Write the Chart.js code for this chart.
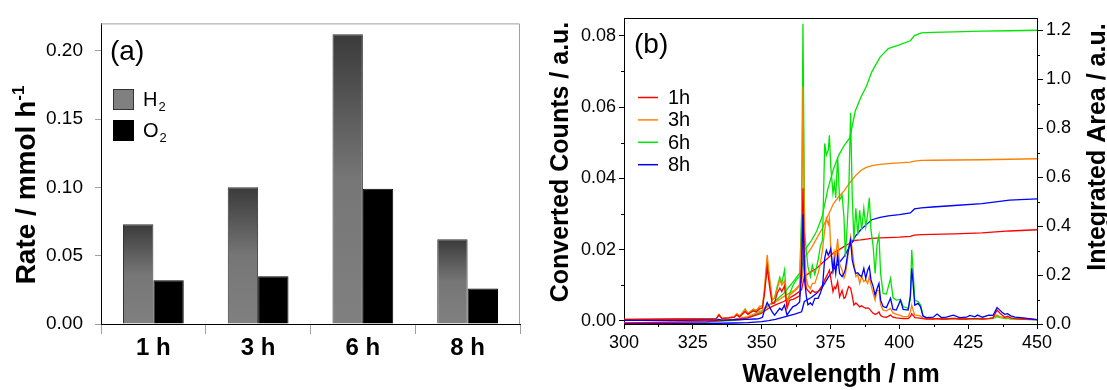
<!DOCTYPE html>
<html>
<head>
<meta charset="utf-8">
<script src="https://cdn.jsdelivr.net/npm/chart.js@4.4.1/dist/chart.umd.min.js"></script>
<style>
  html, body { margin: 0; padding: 0; background: #fff; }
  #wrap { position: relative; width: 1107px; height: 390px; }
  #boxA { position: absolute; left: 0; top: 0; }
  #boxB { position: absolute; left: 540px; top: 0; }
</style>
</head>
<body>
<div id="wrap">
  <div id="boxA"><canvas id="rateChart" width="540" height="390"></canvas></div>
  <div id="boxB"><canvas id="spectraChart" width="567" height="390"></canvas></div>
</div>
<script>
// panel (a): gas evolution rates
const hours = ['1 h', '3 h', '6 h', '8 h'];
const h2Rate = [0.073, 0.100, 0.212, 0.062];
const o2Rate = [0.032, 0.035, 0.099, 0.026];
const rateTicks = [0, 0.05, 0.10, 0.15, 0.20];

// panel (b): emission spectra (left axis)
const wl = [300, 320, 330, 333.5, 334.5, 335.5, 338, 340, 341, 342,
  344, 345, 347, 348, 349.3, 350.3, 351, 352, 352.8, 353.8,
  354.7, 355.6, 356.6, 357.3, 358.3, 359.2, 360.2, 361.4, 362.6, 363.8,
  364.5, 365, 365.6, 366.2, 366.8, 367.7, 368.4, 369.3, 370.5, 371.3,
  372.1, 372.9, 373.5, 374.2, 374.6, 375.1, 375.9, 376.4, 376.9, 377.6,
  378.3, 379.2, 379.9, 380.4, 381.1, 381.6, 382.3, 382.9, 383.5, 384.2,
  384.9, 385.6, 386.3, 387.1, 387.8, 388.5, 389.1, 389.7, 390.5, 391.2,
  391.9, 392.6, 393.2, 394.1, 395.3, 396.8, 397.7, 398.9, 400.4, 401.4,
  403.2, 404, 404.5, 405, 405.6, 406.8, 407.7, 408.6, 409.8, 412.3,
  413.7, 415.3, 417.1, 419.6, 421.9, 424.4, 425.6, 427.4, 428.4, 430.2,
  432.5, 434, 435.5, 436.5, 437.3, 438.3, 439.3, 440.5, 442, 445, 450];
const counts1h = [.0004, .0005, .0005, .0006, .0016, .0007, .0008, .0010, .0016, .0011,
  .0026, .0018, .0028, .0025, .0034, .0036, .0075, .0150, .0100, .0048,
  .0050, .0077, .0092, .0082, .0098, .0035, .0058, .0060, .0065, .0070,
  .0160, .0372, .0140, .0091, .0085, .0077, .0085, .0080, .0082, .0091,
  .0100, .0115, .0124, .0135, .0142, .0120, .0082, .0095, .0090, .0110,
  .0067, .0085, .0063, .0066, .0085, .0096, .0092, .0070, .0044, .0050,
  .0045, .0039, .0042, .0038, .0035, .0036, .0034, .0028, .0021, .0018,
  .0020, .0025, .0015, .0011, .0010, .0016, .0010, .0008, .0007, .0006,
  .0006, .0012, .0020, .0015, .0009, .0008, .0007, .0006, .0005, .0005,
  .0006, .0005, .0005, .0007, .0005, .0005, .0006, .0006, .0006, .0005,
  .0006, .0008, .0030, .0022, .0016, .0010, .0013, .0008, .0006, .0005, .0003];
const counts3h = [.0004, .0005, .0006, .0006, .0018, .0007, .0009, .0012, .0020, .0014,
  .0032, .0022, .0032, .0030, .0040, .0042, .0090, .0185, .0125, .0060,
  .0064, .0088, .0115, .0100, .0112, .0046, .0072, .0080, .0088, .0098,
  .0260, .0656, .0200, .0119, .0100, .0090, .0105, .0105, .0133, .0160,
  .0200, .0255, .0288, .0270, .0287, .0200, .0133, .0194, .0180, .0230,
  .0160, .0142, .0120, .0130, .0165, .0200, .0236, .0200, .0161, .0124,
  .0130, .0105, .0125, .0110, .0115, .0105, .0124, .0100, .0077, .0058,
  .0086, .0085, .0045, .0030, .0028, .0035, .0022, .0018, .0015, .0011,
  .0012, .0025, .0044, .0030, .0016, .0015, .0013, .0007, .0006, .0006,
  .0007, .0006, .0006, .0007, .0006, .0006, .0006, .0006, .0007, .0006,
  .0007, .0008, .0016, .0012, .0010, .0008, .0009, .0007, .0006, .0005, .0003];
const counts6h = [.0003, .0003, .0004, .0005, .0018, .0006, .0008, .0010, .0018, .0012,
  .0033, .0020, .0033, .0028, .0041, .0040, .0080, .0166, .0120, .0058,
  .0065, .0095, .0122, .0105, .0142, .0049, .0077, .0100, .0115, .0125,
  .0300, .0834, .0250, .0198, .0152, .0124, .0156, .0130, .0170, .0208,
  .0227, .0498, .0465, .0480, .0521, .0433, .0358, .0386, .0345, .0460,
  .0339, .0353, .0290, .0180, .0273, .0350, .0584, .0348, .0227, .0316,
  .0240, .0310, .0255, .0316, .0264, .0300, .0345, .0255, .0208, .0133,
  .0213, .0240, .0133, .0077, .0075, .0119, .0065, .0058, .0060, .0040,
  .0035, .0060, .0199, .0142, .0058, .0054, .0045, .0015, .0008, .0006,
  .0006, .0005, .0005, .0006, .0005, .0005, .0005, .0005, .0005, .0005,
  .0006, .0006, .0012, .0009, .0008, .0006, .0007, .0005, .0005, .0004, .0003];
const counts8h = [.0001, .0001, .0002, .0002, .0004, .0002, .0002, .0003, .0003, .0003,
  .0004, .0004, .0005, .0005, .0007, .0010, .0030, .0051, .0040, .0025,
  .0016, .0025, .0035, .0030, .0044, .0016, .0028, .0040, .0044, .0053,
  .0140, .0299, .0114, .0070, .0045, .0050, .0044, .0063, .0063, .0077,
  .0096, .0175, .0198, .0184, .0190, .0203, .0142, .0170, .0133, .0184,
  .0133, .0124, .0133, .0145, .0180, .0203, .0227, .0170, .0150, .0133,
  .0135, .0128, .0124, .0147, .0119, .0142, .0152, .0115, .0096, .0072,
  .0090, .0105, .0058, .0040, .0037, .0063, .0032, .0030, .0058, .0032,
  .0030, .0070, .0147, .0105, .0044, .0049, .0039, .0013, .0009, .0010,
  .0019, .0009, .0010, .0016, .0009, .0010, .0015, .0011, .0016, .0010,
  .0016, .0015, .0037, .0030, .0024, .0018, .0020, .0014, .0010, .0008, .0003];

// panel (b): integrated area (right axis)
const areaWl = [300, 330, 340, 345, 350, 352.5, 355, 358, 362, 364.5,
  365.5, 368, 370, 372, 374, 376, 378, 380, 382, 384,
  386, 388, 390, 393, 396, 400, 404, 405.5, 408, 412,
  420, 430, 440, 450];
const area1h = [0.004, 0.01, 0.018, 0.025, 0.044, 0.064, 0.078, 0.092, 0.119, 0.139,
  0.194, 0.214, 0.228, 0.249, 0.269, 0.29, 0.303, 0.317, 0.33, 0.342,
  0.344, 0.347, 0.35, 0.352, 0.353, 0.355, 0.358, 0.363, 0.365, 0.366,
  0.368, 0.372, 0.38, 0.385];
const area3h = [0.004, 0.01, 0.02, 0.03, 0.055, 0.078, 0.09, 0.112, 0.139, 0.17,
  0.27, 0.31, 0.35, 0.39, 0.44, 0.49, 0.52, 0.545, 0.577, 0.605,
  0.627, 0.64, 0.647, 0.652, 0.655, 0.658, 0.661, 0.665, 0.668, 0.669,
  0.670, 0.671, 0.673, 0.675];
const area6h = [0.005, 0.008, 0.015, 0.025, 0.05, 0.075, 0.095, 0.125, 0.18, 0.22,
  0.30, 0.34, 0.38, 0.44, 0.55, 0.63, 0.69, 0.73, 0.76, 0.87,
  0.925, 0.97, 1.03, 1.09, 1.125, 1.14, 1.157, 1.178, 1.189, 1.191,
  1.193, 1.196, 1.198, 1.2];
const area8h = [0.0, 0.002, 0.004, 0.006, 0.01, 0.014, 0.019, 0.028, 0.04, 0.05,
  0.092, 0.108, 0.126, 0.15, 0.187, 0.221, 0.249, 0.276, 0.317, 0.358,
  0.385, 0.406, 0.426, 0.436, 0.442, 0.447, 0.454, 0.47, 0.474, 0.478,
  0.484, 0.492, 0.506, 0.511];

const runLabels = ['1h', '3h', '6h', '8h'];
const runColors = ['#ff0000', '#ff8000', '#00e600', '#0000ff'];
const wlTicks = [300, 325, 350, 375, 400, 425, 450];
const wlMinor = [312.5, 337.5, 362.5, 387.5, 412.5, 437.5];
const countTicks = [0, 0.02, 0.04, 0.06, 0.08];
const countMinor = [0.01, 0.03, 0.05, 0.07];
const areaTicks = [0, 0.2, 0.4, 0.6, 0.8, 1.0, 1.2];
const areaMinor = [0.1, 0.3, 0.5, 0.7, 0.9, 1.1];

const FONT = "'Liberation Sans', Arial, Helvetica, sans-serif";
Chart.defaults.font.family = FONT;
Chart.defaults.color = '#000';
Chart.defaults.animation = false;

// rotated text centred on (cx, cy); parts = [[text, size, raise]]
function drawVertical(ctx, cx, cy, parts) {
  ctx.save();
  ctx.translate(cx, cy);
  ctx.rotate(-Math.PI / 2);
  ctx.textBaseline = 'alphabetic';
  ctx.textAlign = 'left';
  let total = 0;
  parts.forEach(p => { ctx.font = 'bold ' + p[1] + 'px ' + FONT; total += ctx.measureText(p[0]).width; });
  let x = -total / 2;
  const base = parts[0][1] * 0.36;
  parts.forEach(p => {
    ctx.font = 'bold ' + p[1] + 'px ' + FONT;
    ctx.fillText(p[0], x, base - (p[2] || 0));
    x += ctx.measureText(p[0]).width;
  });
  ctx.restore();
}

function h2Fill(c) {
  const y = c.chart.scales.y;
  if (!y || c.raw === undefined) return '#808080';
  const top = y.getPixelForValue(c.raw);
  const base = y.getPixelForValue(0);
  if (!isFinite(top) || !isFinite(base) || top === base) return '#808080';
  const g = c.chart.ctx.createLinearGradient(0, top, 0, base);
  g.addColorStop(0, '#3a3a3a');
  g.addColorStop(0.5, '#767676');
  g.addColorStop(1, '#808080');
  return g;
}

const rateDecor = {
  id: 'rateDecor',
  afterDraw(chart) {
    const ctx = chart.ctx;
    const a = chart.chartArea;
    ctx.save();
    ctx.strokeStyle = '#a0a0a0';
    ctx.lineWidth = 1;
    ctx.beginPath();
    ctx.moveTo(a.left, a.top + 0.5);
    ctx.lineTo(a.right - 0.5, a.top + 0.5);
    ctx.lineTo(a.right - 0.5, a.bottom);
    ctx.stroke();

    ctx.fillStyle = '#000';
    ctx.textBaseline = 'middle';
    ctx.font = '28px ' + FONT;
    ctx.fillText('(a)', 110, 52);

    const boxes = [['#808080', '#333333'], ['#000000', '#000000']];
    chart.data.datasets.forEach((ds, i) => {
      const top = 89 + i * 31;
      ctx.fillStyle = boxes[i][0];
      ctx.fillRect(113, top, 21, 21);
      ctx.strokeStyle = boxes[i][1];
      ctx.strokeRect(113.5, top + 0.5, 20, 20);
      ctx.fillStyle = '#000';
      ctx.textBaseline = 'alphabetic';
      ctx.font = '20px ' + FONT;
      const main = ds.label.slice(0, 1);
      ctx.fillText(main, 143, top + 17);
      const w = ctx.measureText(main).width;
      ctx.font = '13px ' + FONT;
      ctx.fillText(ds.label.slice(1), 143 + w + 1, top + 22);
    });
    ctx.restore();

    drawVertical(ctx, 25, 185, [['Rate / mmol h', 28, 0], ['-1', 17, 11]]);
  }
};

new Chart(document.getElementById('rateChart').getContext('2d'), {
  type: 'bar',
  data: {
    labels: hours,
    datasets: [
      { label: 'H2', data: h2Rate, backgroundColor: h2Fill, borderColor: '#333333', borderWidth: 1 },
      { label: 'O2', data: o2Rate, backgroundColor: '#000000', borderColor: '#000000', borderWidth: 1 }
    ]
  },
  options: {
    responsive: false,
    events: [],
    categoryPercentage: 0.58,
    barPercentage: 1.0,
    layout: { padding: { top: 17, right: 20, left: 0, bottom: 0 } },
    plugins: { legend: { display: false }, tooltip: { enabled: false } },
    scales: {
      x: {
        offset: true,
        grid: { offset: true, drawOnChartArea: false, tickLength: 10, tickColor: '#a0a0a0' },
        border: { color: '#000000', width: 1 },
        ticks: { font: { size: 24, weight: 'bold' }, padding: 0, maxRotation: 0 },
        afterFit: s => { s.height = 66; }
      },
      y: {
        min: 0,
        max: 0.22,
        afterBuildTicks: s => { s.ticks = rateTicks.map(v => ({ value: v })); },
        grid: { drawOnChartArea: false, tickLength: 6, tickColor: '#a0a0a0' },
        border: { color: '#000000', width: 1 },
        ticks: { font: { size: 19 }, padding: 12, callback: v => v.toFixed(2) },
        afterFit: s => { s.width = 101; }
      }
    }
  },
  plugins: [rateDecor]
});

const pts = (xs, ys) => xs.map((x, i) => ({ x: x, y: ys[i] }));
const spectra = [counts1h, counts3h, counts6h, counts8h];
const areas = [area1h, area3h, area6h, area8h];

const spectraDecor = {
  id: 'spectraDecor',
  afterDraw(chart) {
    const ctx = chart.ctx;
    const a = chart.chartArea;
    const sc = chart.scales;
    ctx.save();
    ctx.strokeStyle = '#000';
    ctx.lineWidth = 1;
    ctx.beginPath();
    ctx.moveTo(a.left, a.top + 0.5);
    ctx.lineTo(a.right, a.top + 0.5);
    wlMinor.forEach(v => {
      const x = Math.round(sc.x.getPixelForValue(v)) + 0.5;
      ctx.moveTo(x, a.bottom);
      ctx.lineTo(x, a.bottom + 3);
    });
    countMinor.forEach(v => {
      const y = Math.round(sc.y.getPixelForValue(v)) + 0.5;
      ctx.moveTo(a.left - 3, y);
      ctx.lineTo(a.left, y);
    });
    areaMinor.forEach(v => {
      const y = Math.round(sc.y2.getPixelForValue(v)) + 0.5;
      ctx.moveTo(a.right, y);
      ctx.lineTo(a.right + 3, y);
    });
    ctx.stroke();

    ctx.fillStyle = '#000';
    ctx.textBaseline = 'middle';
    ctx.font = '28px ' + FONT;
    ctx.fillText('(b)', 94, 45);

    ctx.font = '20px ' + FONT;
    runLabels.forEach((lab, i) => {
      const y = 97.5 + i * 22.4;
      ctx.strokeStyle = runColors[i];
      ctx.lineWidth = 1.5;
      ctx.beginPath();
      ctx.moveTo(98, y);
      ctx.lineTo(118, y);
      ctx.stroke();
      ctx.fillText(lab, 128, y + 1);
    });

    ctx.textAlign = 'center';
    ctx.font = 'bold 25px ' + FONT;
    ctx.fillText('Wavelength / nm', 301, 375);
    ctx.restore();

    drawVertical(ctx, 19, 162, [['Converted Counts / a.u.', 25, 0]]);
    drawVertical(ctx, 556, 147, [['Integrated Area / a.u.', 25, 0]]);
  }
};

const specSets = [];
[3, 0, 1, 2].forEach(i => {
  specSets.push({ label: runLabels[i], data: pts(wl, spectra[i]), yAxisID: 'y',
    borderColor: runColors[i], borderWidth: 1.3 });
});
[3, 0, 1, 2].forEach(i => {
  specSets.push({ label: runLabels[i] + ' area', data: pts(areaWl, areas[i]), yAxisID: 'y2',
    borderColor: runColors[i], borderWidth: 1.3 });
});

new Chart(document.getElementById('spectraChart').getContext('2d'), {
  type: 'line',
  data: { datasets: specSets },
  options: {
    responsive: false,
    events: [],
    elements: { point: { radius: 0 }, line: { tension: 0, fill: false } },
    layout: { padding: { top: 18, right: 0, left: 0, bottom: 0 } },
    plugins: { legend: { display: false }, tooltip: { enabled: false } },
    scales: {
      x: {
        type: 'linear',
        min: 300,
        max: 450,
        afterBuildTicks: s => { s.ticks = wlTicks.map(v => ({ value: v })); },
        grid: { drawOnChartArea: false, tickLength: 5, tickColor: '#000' },
        border: { color: '#000', width: 1 },
        ticks: { font: { size: 18 }, padding: 3, maxRotation: 0, autoSkip: false, callback: v => String(v) },
        afterFit: s => { s.height = 66; }
      },
      y: {
        position: 'left',
        min: -0.0009,
        max: 0.085,
        afterBuildTicks: s => { s.ticks = countTicks.map(v => ({ value: v })); },
        grid: { drawOnChartArea: false, tickLength: 5, tickColor: '#000' },
        border: { color: '#000', width: 1 },
        ticks: { font: { size: 18 }, padding: 3, callback: v => v.toFixed(2) },
        afterFit: s => { s.width = 84; }
      },
      y2: {
        position: 'right',
        min: 0,
        max: 1.25,
        afterBuildTicks: s => { s.ticks = areaTicks.map(v => ({ value: v })); },
        grid: { drawOnChartArea: false, tickLength: 6, tickColor: '#000' },
        border: { color: '#000', width: 1 },
        ticks: { font: { size: 18 }, padding: 3, callback: v => v.toFixed(1) },
        afterFit: s => { s.width = 70; }
      }
    }
  },
  plugins: [spectraDecor]
});
</script>
</body>
</html>
